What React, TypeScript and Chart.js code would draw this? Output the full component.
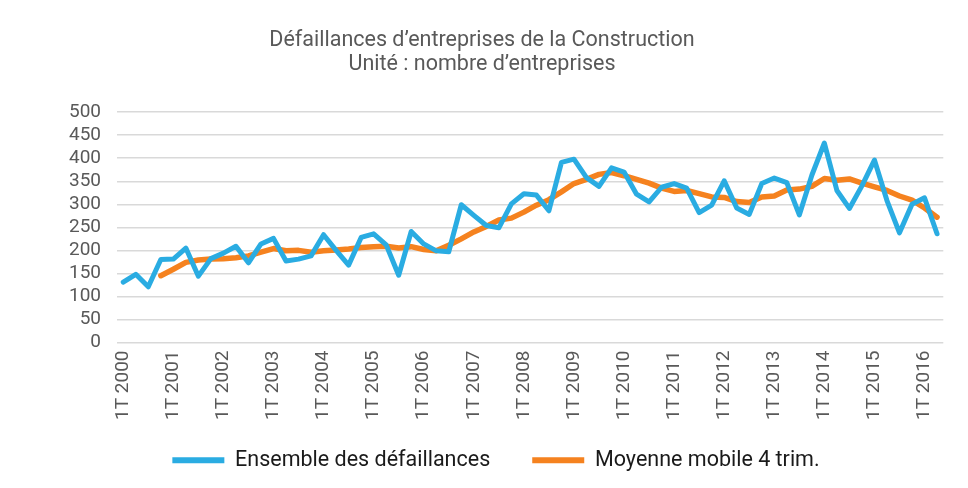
import React, { useEffect, useRef } from "react";
import { Chart, registerables } from "chart.js";

Chart.register(...registerables);

const years = [2000, 2001, 2002, 2003, 2004, 2005, 2006, 2007, 2008, 2009, 2010, 2011, 2012, 2013, 2014, 2015, 2016];
const quarterNames = ["1T", "2T", "3T", "4T"];
const lastYearQuarters = 2;

const categories: string[] = [];
years.forEach((y, yi) => {
  const n = yi === years.length - 1 ? lastYearQuarters : 4;
  for (let q = 0; q < n; q++) categories.push(`${quarterNames[q]} ${y}`);
});

const ensembleDefaillances = [
  131, 148, 121, 180,
  181, 205, 144, 182,
  194, 209, 173, 214,
  226, 177, 181, 188,
  234, 200, 168, 228,
  236, 212, 146, 241,
  214, 199, 197, 299,
  276, 254, 249, 301,
  323, 320, 286, 391,
  398, 358, 339, 379,
  370, 322, 305, 337,
  345, 335, 282, 298,
  351, 292, 278, 345,
  357, 347, 277, 363,
  433, 330, 291, 340,
  396, 308, 238, 300,
  314, 236,
];

const moyenneMobile = [
  null, null, null, 145,
  159, 174, 179, 181,
  182, 184, 188, 196,
  204, 199, 200, 196,
  199, 201, 203, 206,
  208, 209, 205, 208,
  202, 199, 211, 225,
  240, 252, 266, 270,
  283, 298, 310, 327,
  345, 354, 365, 369,
  362, 354, 346, 335,
  328, 330, 323, 316,
  315, 306, 304, 316,
  318, 331, 333, 339,
  356, 352, 355, 346,
  338, 330, 318, 309,
  292, 272,
];

const yTicks = [0, 50, 100, 150, 200, 250, 300, 350, 400, 450, 500];

const seriesNames = ["Ensemble des défaillances", "Moyenne mobile 4 trim."];
const titleLines = ["Défaillances d’entreprises de la Construction", "Unité : nombre d’entreprises"];

const BLUE = "#2AACE2";
const ORANGE = "#F5821F";
const GRID = "#D9D9D9";
const TEXT = "#595959";
const FONT = "Roboto";

const LEGEND_DX = 14;
const LEGEND_DY = -19;

const legendShift = {
  id: "legendShift",
  afterLayout(chart: any) {
    const l = chart.legend;
    if (!l) return;
    l.top += LEGEND_DY;
    l.bottom += LEGEND_DY;
    l.left += LEGEND_DX;
    l.right += LEGEND_DX;
  },
};

export default function App() {
  const ref = useRef<HTMLCanvasElement | null>(null);

  useEffect(() => {
    if (!ref.current) return;
    const chart = new Chart(ref.current, {
      type: "line",
      data: {
        labels: categories,
        datasets: [
          {
            label: seriesNames[0],
            data: ensembleDefaillances,
            borderColor: BLUE,
            backgroundColor: BLUE,
            borderWidth: 5,
            pointRadius: 0,
            tension: 0,
            borderJoinStyle: "round",
            borderCapStyle: "round",
          },
          {
            label: seriesNames[1],
            data: moyenneMobile,
            borderColor: ORANGE,
            backgroundColor: ORANGE,
            borderWidth: 5.5,
            pointRadius: 0,
            tension: 0,
            borderJoinStyle: "round",
            borderCapStyle: "round",
          },
        ],
      },
      plugins: [legendShift],
      options: {
        animation: false,
        responsive: true,
        maintainAspectRatio: false,
        layout: { padding: { left: 17, right: 21, top: 0, bottom: -12 } },
        plugins: {
          title: {
            display: true,
            text: titleLines,
            color: TEXT,
            font: { family: FONT, size: 21.5, weight: "normal", lineHeight: 1.12 },
            padding: { top: 29, bottom: 35 },
          },
          legend: {
            display: true,
            position: "bottom",
            labels: {
              color: "#1A1A1A",
              font: { family: FONT, size: 21.5 },
              boxWidth: 52,
              boxHeight: 6,
              padding: 42,
              generateLabels: (c: any) =>
                Chart.defaults.plugins.legend.labels.generateLabels(c).map((it: any) => ({
                  ...it,
                  lineWidth: 0,
                  strokeStyle: "rgba(0,0,0,0)",
                })),
            },
          },
          tooltip: { enabled: false },
        },
        scales: {
          x: {
            offset: true,
            grid: { display: false, drawTicks: false },
            border: { display: false },
            ticks: {
              autoSkip: false,
              maxRotation: 90,
              minRotation: 90,
              padding: 8,
              color: TEXT,
              font: { family: FONT, size: 19 },
              callback: (_v: any, i: number) => (categories[i].startsWith("1T") ? categories[i] : ""),
            },
            afterFit: (s: any) => {
              s.height = 84;
            },
          },
          y: {
            min: 0,
            max: 500,
            afterBuildTicks: (s: any) => {
              s.ticks = yTicks.map((v) => ({ value: v }));
            },
            grid: { color: GRID, lineWidth: 1.5, drawTicks: false },
            border: { display: false },
            ticks: {
              autoSkip: false,
              padding: 16,
              color: TEXT,
              font: { family: FONT, size: 19, lineHeight: 1 },
            },
            afterFit: (s: any) => {
              s.width = 100;
            },
          },
        },
      },
    });
    return () => chart.destroy();
  }, []);

  return (
    <div style={{ position: "absolute", left: 0, top: 0, width: 968, height: 488, background: "#fff" }}>
      <canvas ref={ref} />
    </div>
  );
}
